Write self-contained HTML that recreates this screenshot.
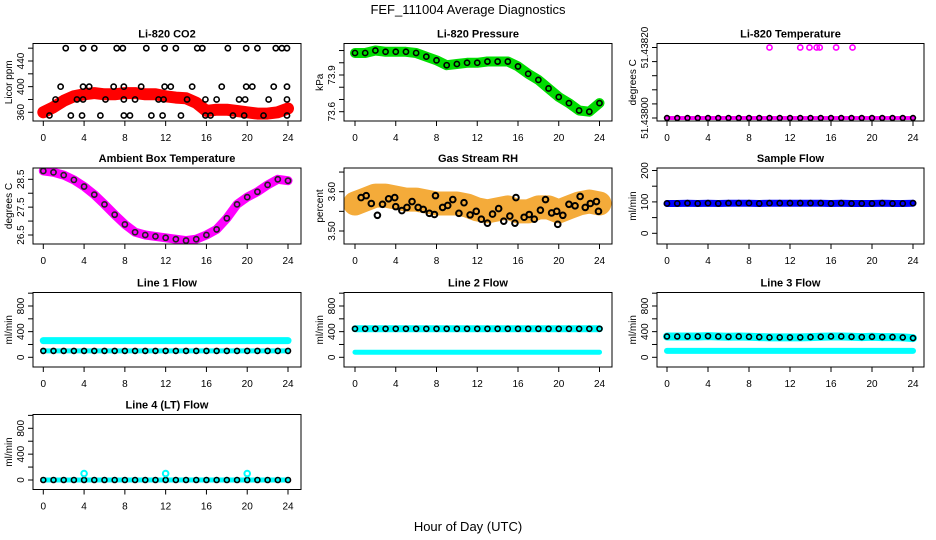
<!DOCTYPE html>
<html><head><meta charset="utf-8">
<style>
html,body{margin:0;padding:0;background:#fff;}
svg{display:block;font-family:"Liberation Sans",Arial,sans-serif;}
</style></head>
<body>
<svg id="chart" width="936" height="540" viewBox="0 0 936 540" xmlns="http://www.w3.org/2000/svg">
<text x="468" y="14" text-anchor="middle" font-size="13">FEF_111004  Average Diagnostics</text>
<text x="468" y="531" text-anchor="middle" font-size="13">Hour of Day (UTC)</text>
</svg>
<script>
// ---- data ----
const hours = [0,1,2,3,4,5,6,7,8,9,10,11,12,13,14,15,16,17,18,19,20,21,22,23,24];
const xTicks = [0,4,8,12,16,20,24];
const co2Band = [360,368,378,385,388,390,388,388,390,390,388,388,385,383,382,375,362,364,364,362,360,358,358,360,366];
const co2PtsX = [2.2,3.9,5.0,7.2,7.8,10.1,11.9,13.0,15.1,15.6,18.1,19.9,21.0,22.8,23.4,23.9,
  1.7,4.5,3.9,6.9,7.9,9.6,11.9,12.5,14.6,17.5,19.9,20.5,22.6,23.9,
  1.2,3.3,3.9,6.1,7.9,9.0,11.3,11.8,14.1,15.9,17.0,19.2,19.8,22.1,23.9,
  0.6,2.7,3.8,5.6,7.9,8.5,10.6,11.7,13.5,15.9,16.4,18.6,19.7,21.6,23.9];
const co2PtsY = [460,460,460,460,460,460,460,460,460,460,460,460,460,460,460,460,
  400,400,400,400,400,400,400,400,400,400,400,400,400,400,
  380,380,380,380,380,380,380,380,380,380,380,380,380,380,380,
  355,355,355,355,355,355,355,355,355,355,355,355,355,355,355];
const pressBand = [74.08,74.08,74.10,74.09,74.09,74.09,74.08,74.05,74.02,73.98,73.99,74.0,74.0,74.01,74.01,74.01,73.97,73.91,73.86,73.79,73.72,73.67,73.61,73.60,73.67];
const tempBand = [51.438,51.438,51.438,51.438,51.438,51.438,51.438,51.438,51.438,51.438,51.438,51.438,51.438,51.438,51.438,51.438,51.438,51.438,51.438,51.438,51.438,51.438,51.438,51.438,51.438];
const tempSpikeX = [10,13,13.9,14.6,14.9,16.5,18.1];
const tempSpikeY = [51.4382,51.4382,51.4382,51.4382,51.4382,51.4382,51.4382];
const ambBand = [28.8,28.75,28.65,28.48,28.24,27.95,27.6,27.23,26.88,26.6,26.5,26.45,26.4,26.35,26.3,26.35,26.5,26.7,27.1,27.6,27.86,28.05,28.3,28.5,28.45];
const rhBand = [3.57,3.58,3.59,3.59,3.585,3.58,3.58,3.575,3.57,3.57,3.57,3.565,3.555,3.55,3.555,3.56,3.55,3.55,3.56,3.56,3.55,3.56,3.57,3.575,3.57];
const rhPtsX = [0.6,1.1,1.6,2.2,2.7,3.3,3.9,4.0,4.6,5.1,5.6,6.2,6.7,7.3,7.8,7.9,8.6,9.1,9.6,10.2,10.7,11.3,11.9,12.4,13.0,13.5,14.1,14.6,15.2,15.7,15.8,16.6,17.1,17.6,18.2,18.7,19.3,19.8,19.9,20.4,21.0,21.6,22.1,22.6,23.1,23.7,23.9];
const rhPtsY = [3.585,3.59,3.57,3.54,3.568,3.582,3.585,3.562,3.552,3.56,3.575,3.56,3.555,3.545,3.542,3.59,3.56,3.565,3.58,3.545,3.572,3.541,3.55,3.53,3.52,3.543,3.557,3.525,3.538,3.52,3.585,3.535,3.542,3.53,3.553,3.58,3.546,3.55,3.517,3.54,3.568,3.564,3.588,3.56,3.57,3.575,3.55];
const sampleFlow = [95,95,96,95,96,95,96,96,96,95,96,96,96,96,96,96,95,96,95,95,95,96,95,95,96];
const line1High = [260,260,260,260,260,260,260,260,260,260,260,260,260,260,260,260,260,260,260,260,260,260,260,260,260];
const line1Low = [100,100,100,100,100,100,100,100,100,100,100,100,100,100,100,100,100,100,100,100,100,100,100,100,100];
const line2High = [445,445,445,445,445,445,445,445,445,445,445,445,445,445,445,445,445,445,445,445,445,445,445,445,445];
const line2Low = [80,80,80,80,80,80,80,80,80,80,80,80,80,80,80,80,80,80,80,80,80,80,80,80,80];
const line3High = [325,325,325,325,330,325,320,325,320,315,310,310,310,310,315,320,325,325,320,315,320,315,315,310,300];
const line3Low = [100,100,100,100,100,100,100,100,100,100,100,100,100,100,100,100,100,100,100,100,100,100,100,100,100];
const line4Flow = [0,0,0,0,0,0,0,0,0,0,0,0,0,0,0,0,0,0,0,0,0,0,0,0,0];
const line4SpikeX = [4,12,20];
const line4SpikeY = [100,100,100];

// ---- layout ----
const NS = "http://www.w3.org/2000/svg";
const svg = document.getElementById('chart');
const cols = [{l:33,r:301,x0:43.3,x24:288},{l:344,r:612,x0:355,x24:599.5},{l:657,r:924,x0:667,x24:913}];
const rows = [{t:43.5,b:121},{t:168,b:244},{t:292.5,b:367},{t:414.5,b:489.5}];

function mk(tag, attrs, parent){
  const e = document.createElementNS(NS, tag);
  for (const k in attrs) e.setAttribute(k, attrs[k]);
  (parent||svg).appendChild(e);
  return e;
}

function panel(p){
  const c = cols[p.col], r = rows[p.row];
  const g = mk('g', {});
  
  
  const xs = h => c.x0 + h*(c.x24-c.x0)/24;
  const ys = v => p.cal[0][1] + (v-p.cal[0][0])*(p.cal[1][1]-p.cal[0][1])/(p.cal[1][0]-p.cal[0][0]);
  const t = mk('text', {x:(c.l+c.r)/2, y:r.t-6, 'text-anchor':'middle', 'font-size':11, 'font-weight':'bold'}, g);
  t.textContent = p.title;
  
  
  const yt = mk('text', {transform:`translate(${c.l-21},${(r.t+r.b)/2}) rotate(-90)`, 'text-anchor':'middle', 'font-size':10}, g);
  yt.textContent = p.ylab;
  
  
  mk('line', {x1:xs(0), x2:xs(24), y1:r.b, y2:r.b, stroke:'#000'}, g);
  xTicks.forEach(h => {
    mk('line', {x1:xs(h), x2:xs(h), y1:r.b, y2:r.b+5, stroke:'#000'}, g);
    const tl = mk('text', {x:xs(h), y:r.b+20, 'text-anchor':'middle', 'font-size':10}, g);
    tl.textContent = h;
    
    
  });
  p.ticks.forEach((v,i) => {
    mk('line', {x1:c.l-5, x2:c.l, y1:ys(v), y2:ys(v), stroke:'#000'}, g);
    if (p.labels[i]) {
      const tl = mk('text', {transform:`translate(${c.l-9},${ys(v)}) rotate(-90)`, 'text-anchor':'middle', 'font-size':10}, g);
      tl.textContent = p.labels[i];
      
      
    }
  });
  const cid = 'clip'+p.col+'_'+p.row;
  const cp = mk('clipPath', {id:cid}, g);
  mk('rect', {x:c.l, y:r.t, width:c.r-c.l, height:r.b-r.t}, cp);
  const dg = mk('g', {'clip-path':`url(#${cid})`}, g);
  p.draw(dg, xs, ys);
  mk('rect', {x:c.l, y:r.t, width:c.r-c.l, height:r.b-r.t, fill:'none', stroke:'#000'}, g);
}

function band(g, xs, ys, xarr, yarr, color, w, name){
  const pts = xarr.map((h,i) => xs(h).toFixed(1)+','+ys(yarr[i]).toFixed(1)).join(' ');
  const pl = mk('polyline', {points:pts, fill:'none', stroke:color, 'stroke-width':w, 'stroke-linejoin':'round', 'stroke-linecap':'round'}, g);
  
  
}
function circles(g, xs, ys, xarr, yarr, color, rad, name, sw){
  xarr.forEach((h,i) => {
    const ci = mk('circle', {cx:xs(h), cy:ys(yarr[i]), r:rad, fill:'none', stroke:color, 'stroke-width':sw||1.6}, g);
    
    
  });
}

panel({col:0,row:0,name:'panel-co2',title:'Li-820 CO2',ylab:'Licor ppm',cal:[[360,112.3],[440,61]],
  ticks:[360,380,400,420,440,460],labels:['360','','400','','440',''],
  draw:(g,xs,ys)=>{ band(g,xs,ys,hours,co2Band,'#ff0000',12,'co2-band'); circles(g,xs,ys,co2PtsX,co2PtsY,'#000',2.6,'co2-point'); }});
panel({col:1,row:0,name:'panel-pressure',title:'Li-820 Pressure',ylab:'kPa',cal:[[73.9,75],[73.6,111.7]],
  ticks:[73.6,73.7,73.8,73.9,74.0,74.1],labels:['73.6','','','73.9','',''],
  draw:(g,xs,ys)=>{ band(g,xs,ys,hours,pressBand,'#00dd00',10,'pressure-band'); circles(g,xs,ys,hours,pressBand,'#000',2.6,'pressure-point'); }});
panel({col:2,row:0,name:'panel-li820-temp',title:'Li-820 Temperature',ylab:'degrees C',cal:[[51.438,118],[51.4382,47.5]],
  ticks:[51.438,51.43804,51.43808,51.43812,51.43816,51.4382],labels:['51.43800','','','','','51.43820'],
  draw:(g,xs,ys)=>{ band(g,xs,ys,hours,tempBand,'#ff00ff',4,'temp-band'); circles(g,xs,ys,hours,tempBand,'#000',2.4,'temp-point'); circles(g,xs,ys,tempSpikeX,tempSpikeY,'#ff00ff',2.6,'temp-spike'); }});
panel({col:0,row:1,name:'panel-ambient',title:'Ambient Box Temperature',ylab:'degrees C',cal:[[28.5,179.3],[26.5,235]],
  ticks:[26.5,27,27.5,28,28.5],labels:['26.5','','27.5','','28.5'],
  draw:(g,xs,ys)=>{ band(g,xs,ys,hours,ambBand,'#ff00ff',9,'ambient-band'); circles(g,xs,ys,hours,ambBand,'#222',2.6,'ambient-point'); }});
panel({col:1,row:1,name:'panel-rh',title:'Gas Stream RH',ylab:'percent',cal:[[3.6,191.7],[3.5,231]],
  ticks:[3.5,3.55,3.6,3.65],labels:['3.50','','3.60',''],
  draw:(g,xs,ys)=>{ band(g,xs,ys,hours,rhBand,'#f4ab3a',24,'rh-band'); circles(g,xs,ys,rhPtsX,rhPtsY,'#000',2.8,'rh-point',2); }});
panel({col:2,row:1,name:'panel-sample-flow',title:'Sample Flow',ylab:'ml/min',cal:[[0,233.3],[200,170.5]],
  ticks:[0,50,100,150,200],labels:['0','','100','','200'],
  draw:(g,xs,ys)=>{ band(g,xs,ys,hours,sampleFlow,'#0000ff',7,'sample-band'); circles(g,xs,ys,hours,sampleFlow,'#000',2.6,'sample-point'); }});
const flowTicks=[0,200,400,600,800,1000], flowLabels=['0','','400','','800',''];
panel({col:0,row:2,name:'panel-line1',title:'Line 1 Flow',ylab:'ml/min',cal:[[0,357.3],[800,306]],ticks:flowTicks,labels:flowLabels,
  draw:(g,xs,ys)=>{ band(g,xs,ys,hours,line1High,'#00ffff',7,'line1-high'); band(g,xs,ys,hours,line1Low,'#00ffff',5,'line1-low'); circles(g,xs,ys,hours,line1Low,'#000',2.5,'line1-point'); }});
panel({col:1,row:2,name:'panel-line2',title:'Line 2 Flow',ylab:'ml/min',cal:[[0,357.3],[800,306]],ticks:flowTicks,labels:flowLabels,
  draw:(g,xs,ys)=>{ band(g,xs,ys,hours,line2High,'#00ffff',7,'line2-high'); band(g,xs,ys,hours,line2Low,'#00ffff',5,'line2-low'); circles(g,xs,ys,hours,line2High,'#000',2.5,'line2-point'); }});
panel({col:2,row:2,name:'panel-line3',title:'Line 3 Flow',ylab:'ml/min',cal:[[0,357.3],[800,306]],ticks:flowTicks,labels:flowLabels,
  draw:(g,xs,ys)=>{ band(g,xs,ys,hours,line3High,'#00ffff',8,'line3-high'); band(g,xs,ys,hours,line3Low,'#00ffff',6,'line3-low'); circles(g,xs,ys,hours,line3High,'#000',2.5,'line3-point'); }});
panel({col:0,row:3,name:'panel-line4',title:'Line 4 (LT) Flow',ylab:'ml/min',cal:[[0,480],[800,428.3]],ticks:flowTicks,labels:flowLabels,
  draw:(g,xs,ys)=>{ band(g,xs,ys,hours,line4Flow,'#00ffff',5,'line4-band'); circles(g,xs,ys,hours,line4Flow,'#000',2.5,'line4-point'); circles(g,xs,ys,line4SpikeX,line4SpikeY,'#00ffff',2.8,'line4-spike',2); }});
</script>
</body></html>
